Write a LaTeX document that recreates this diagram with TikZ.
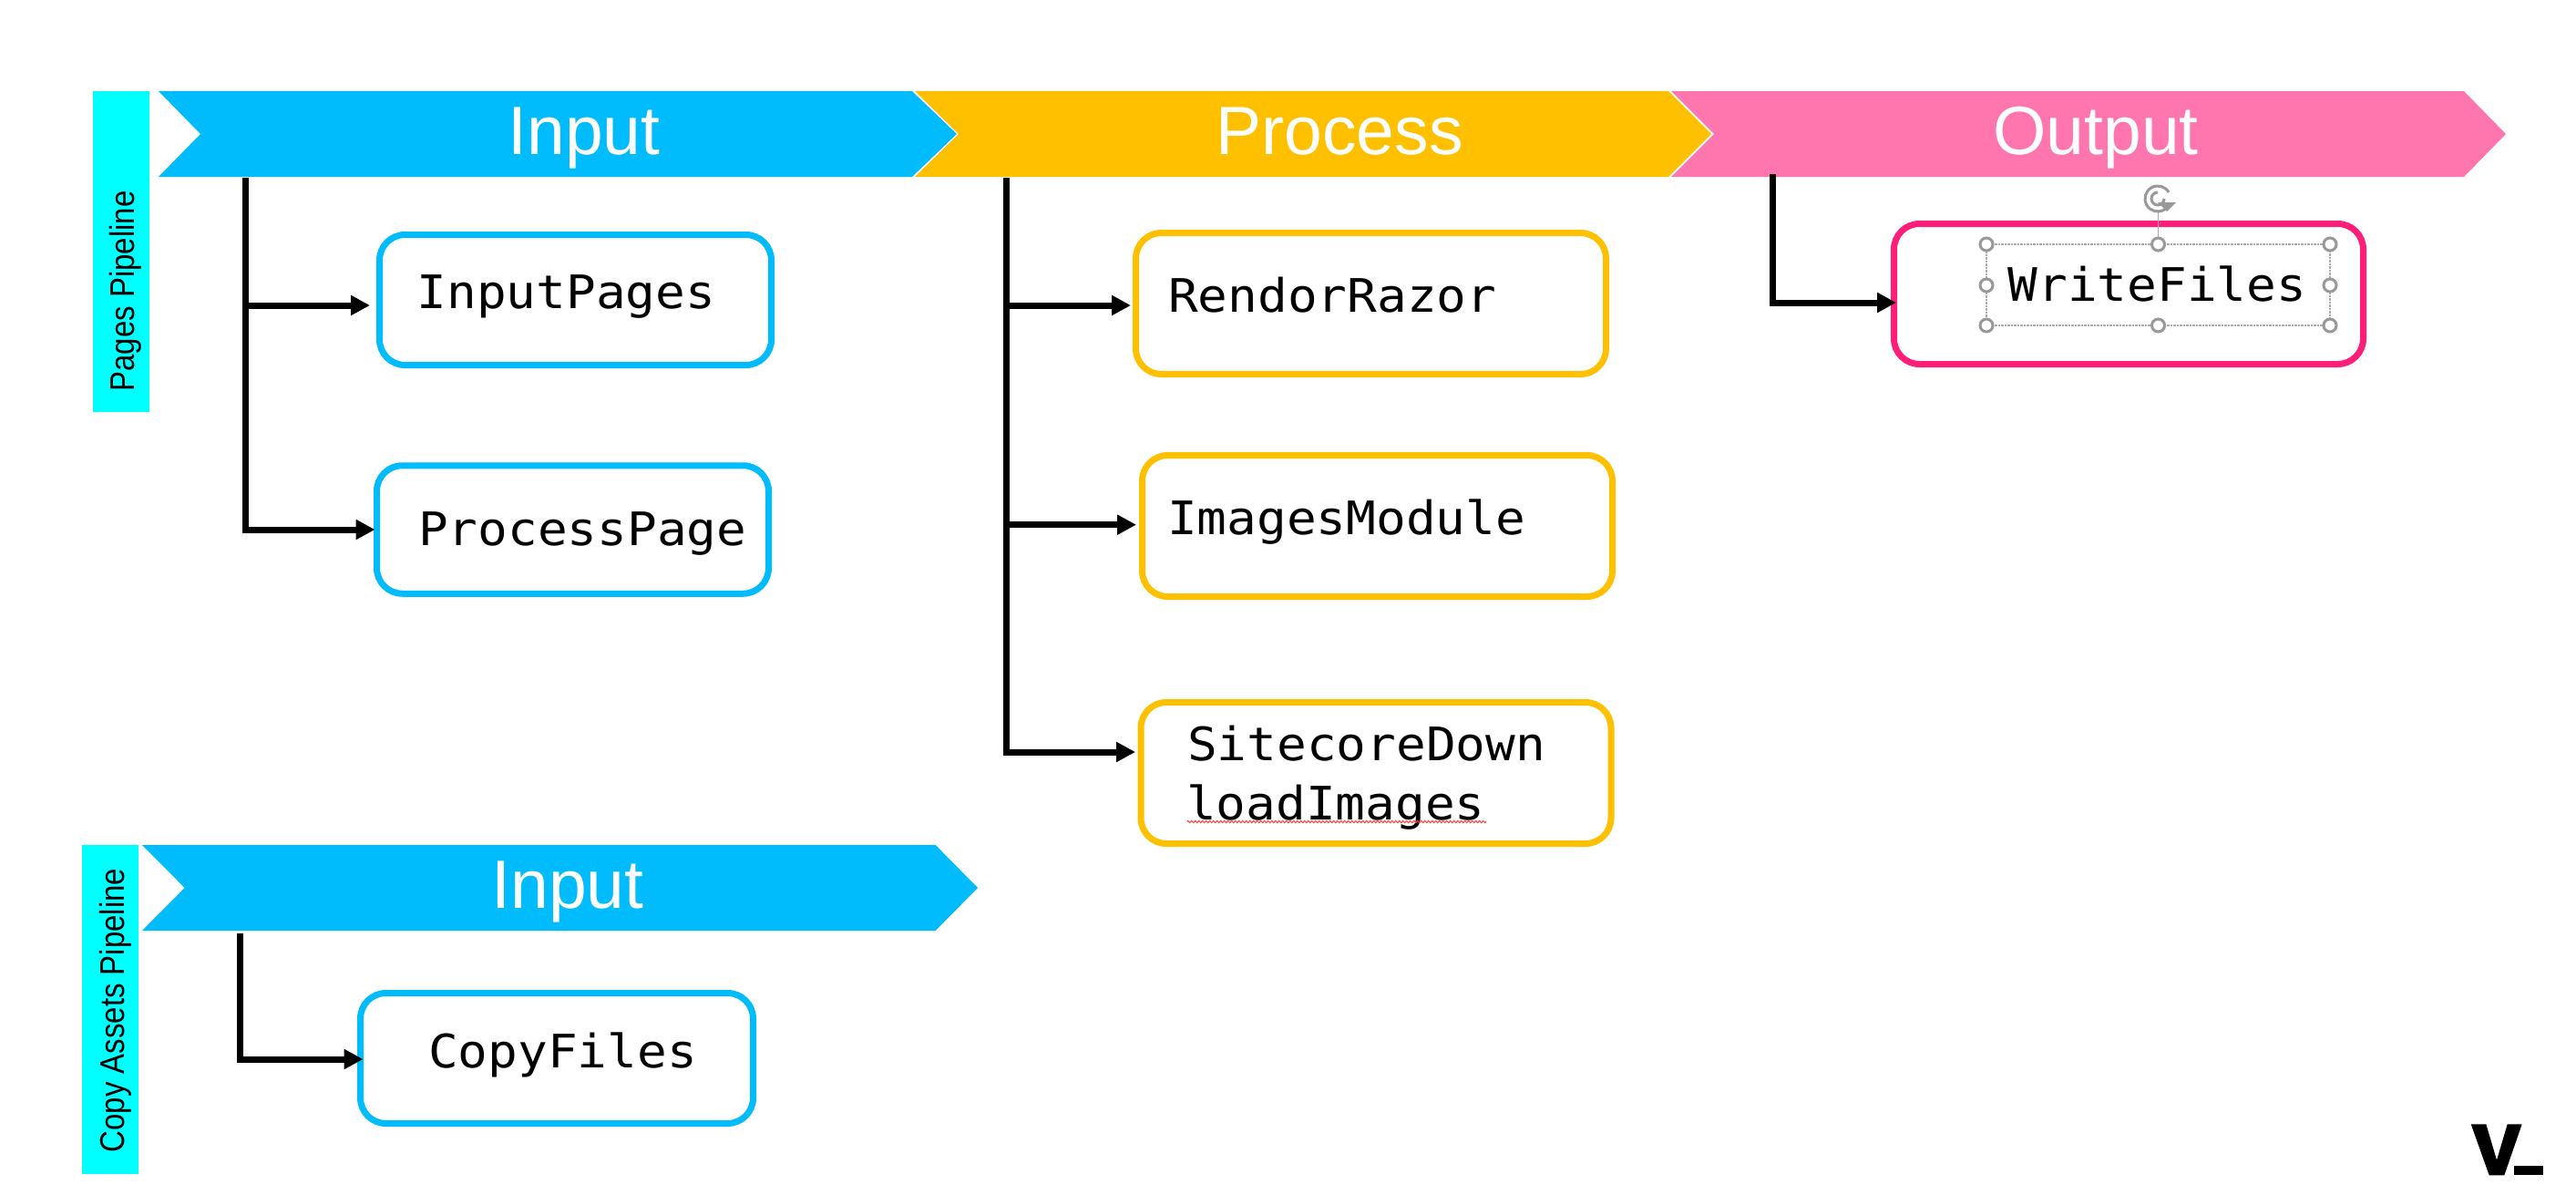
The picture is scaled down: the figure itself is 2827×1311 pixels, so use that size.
\documentclass[tikz,border=0pt]{standalone}
\usepackage{fontspec}
\usepackage{graphicx}
\setmainfont{Liberation Sans}
\setmonofont{DejaVu Sans Mono}
\usetikzlibrary{arrows.meta,decorations.pathmorphing}
\definecolor{cblue}{HTML}{00BCFC}
\definecolor{camber}{HTML}{FFC000}
\definecolor{cpink}{HTML}{FF75AD}
\definecolor{cstrong}{HTML}{FF1F78}
\definecolor{ccyan}{HTML}{00FFFF}
\definecolor{chandle}{HTML}{999999}
\definecolor{cframe}{HTML}{ABABAB}
\newcommand{\boxlabel}[1]{\scalebox{1}[0.93]{#1}}
\tikzset{
  bluebox/.style={boxbase,draw=cblue},
  amberbox/.style={boxbase,draw=camber},
  pinkbox/.style={boxbase,draw=cstrong},
  boxbase/.style={rectangle,line width=7pt,rounded corners=28pt,inner sep=0pt,outer sep=0pt,fill=white},
  boxtext/.style={anchor=base west,inner sep=0pt,font=\fontsize{54.4}{65.3}\selectfont\ttfamily,text=black},
  headtext/.style={anchor=base,inner sep=0pt,text=white,font=\fontsize{75}{80}\selectfont},
  sidetext/.style={anchor=base,rotate=90,inner sep=0pt,text=black,font=\fontsize{33}{36}\selectfont},
  arr/.style={draw=black,line width=7pt,-{Triangle[length=21pt,width=21pt]}},
  handle/.style={circle,draw=chandle,line width=3pt,fill=white,minimum size=14pt,inner sep=0pt,outer sep=0pt},
  selbox/.style={draw=cframe,line width=1.2pt,dash pattern=on 2.5pt off 1pt},
}
\begin{document}
\begin{tikzpicture}[x=1pt,y=-1pt]
\useasboundingbox (0,0) rectangle (2827,1311);

% side bands
\fill[ccyan] (102,100) rectangle (164,452);
\fill[ccyan] (90,927) rectangle (152,1288);
\node[sidetext] (sidePages) at (147,319.5) {\scalebox{1}[1.14]{Pages Pipeline}};
\node[sidetext] (sideCopy) at (136,1108.5) {\scalebox{1}[1.14]{Copy Assets Pipeline}};

% chevrons
\fill[cblue] (174,100) -- (1001,100) -- (1050,147) -- (1001,194) -- (174,194) -- (220,147) -- cycle;
\fill[camber] (1004,100) -- (1831,100) -- (1878,147) -- (1831,194) -- (1004,194) -- (1052,147) -- cycle;
\fill[cpink] (1834,100) -- (2704,100) -- (2750,147) -- (2704,194) -- (1834,194) -- (1881,147) -- cycle;
\fill[cblue] (156,927) -- (1026.6,927) -- (1073,974) -- (1026.6,1021) -- (156,1021) -- (202.7,974) -- cycle;
\node[headtext] (hInput) at (641,169) {Input};
\node[headtext] (hProcess) at (1470.2,169) {Process};
\node[headtext] (hOutput) at (2300,169) {Output};
\node[headtext] (hInputB) at (623,996) {Input};

% boxes
\node[bluebox,minimum width=430pt,minimum height=143pt] (b1) at (631.5,329) {};
\node[bluebox,minimum width=430pt,minimum height=140.5pt] (b2) at (628.5,581) {};
\node[amberbox,minimum width=516pt,minimum height=155pt] (b3) at (1504.5,333) {};
\node[amberbox,minimum width=516pt,minimum height=155pt] (b4) at (1511.5,577) {};
\node[amberbox,minimum width=516pt,minimum height=155pt] (b5) at (1510,848) {};
\node[pinkbox,minimum width=515pt,minimum height=154pt] (b6) at (2336,322.5) {};
\node[bluebox,minimum width=431pt,minimum height=143pt] (b7) at (611,1161) {};

% box texts
\node[boxtext] (tInputPages) at (457.5,338) {\boxlabel{InputPages}};
\node[boxtext] (tProcessPage) at (459,598) {\boxlabel{ProcessPage}};
\node[boxtext] (tRendor) at (1282,342.7) {\boxlabel{RendorRazor}};
\node[boxtext] (tImages) at (1281,586.7) {\boxlabel{ImagesModule}};
\node[boxtext] (tSiteA) at (1303,834) {\boxlabel{SitecoreDown}};
\node[boxtext] (tSiteB) at (1302,899.3) {\boxlabel{loadImages}};
\node[boxtext] (tWrite) at (2203.5,330.7) {\boxlabel{WriteFiles}};
\node[boxtext] (tCopy) at (470,1171.7) {\boxlabel{CopyFiles}};

% spell-check squiggle
\draw[red!75!white,line width=1pt,decorate,decoration={zigzag,amplitude=1.2pt,segment length=4pt}] (1302.7,901.5) -- (1631,901.5);

% connectors
\coordinate (t1) at (269.5,195);
\coordinate (t2) at (1104.5,195);
\coordinate (t3) at (1945,191);
\coordinate (t4) at (263,1024);
\draw[arr] (t1) |- ([xshift=-10.5pt,yshift=-6pt]b1.west);
\draw[arr] (t1) |- ([xshift=-2pt]b2.west);
\draw[arr] (t2) |- ([xshift=-5.5pt,yshift=-2pt]b3.west);
\draw[arr] (t2) |- ([xshift=-6.5pt,yshift=1.3pt]b4.west);
\draw[arr] (t2) |- ([xshift=-6pt,yshift=23pt]b5.west);
\draw[arr] (t3) |- ([xshift=2.5pt,yshift=-9.5pt]b6.west);
\draw[arr] (t4) |- ([xshift=3pt,yshift=-1pt]b7.west);

% selection frame
\draw[selbox] (2180,268) rectangle (2557,357);
\draw[draw=cframe,line width=1.2pt] (2368.5,233) -- (2368.5,260);
\foreach \n/\p in {a/{2180,268},b/{2368.5,268},c/{2557,268},d/{2180,313},e/{2557,313},f/{2180,357},g/{2368.5,357},h/{2557,357}}
  \node[handle] (h\n) at (\p) {};
\draw[chandle,line width=3pt] (2368,218) ++(-30:14) arc[start angle=30,end angle=330,radius=14pt];
\draw[chandle,line width=3pt] (2368,218) ++(-90:7) arc[start angle=90,end angle=360,radius=7pt];
\fill[chandle] (2368,222) -- (2388,222) -- (2378,232) -- cycle;

% logo
\fill[black] (2711.7,1233.3) -- (2728.3,1233.3) -- (2740,1272.7) -- (2751.7,1233.3) -- (2767.7,1233.3) -- (2748.3,1289.3) -- (2731.7,1289.3) -- cycle;
\fill[black] (2759.3,1279) rectangle (2791.3,1289.3);
\end{tikzpicture}
\end{document}
